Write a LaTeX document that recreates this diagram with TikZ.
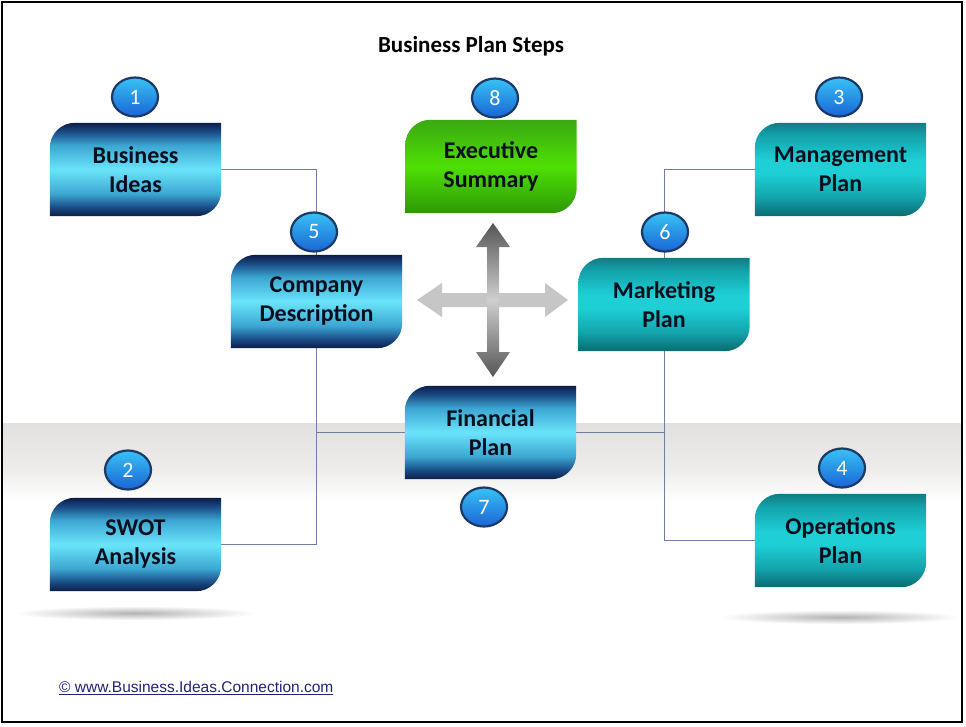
\documentclass[tikz,border=0pt]{standalone}
\usepackage{fontspec}
\setmainfont{Carlito}
\newfontfamily\arialf{Liberation Sans}
\usetikzlibrary{shapes.geometric,calc}
\definecolor{bnavy}{HTML}{0B1D4A}
\definecolor{bdeep}{HTML}{1B4D86}
\definecolor{bmidc}{HTML}{3CA6D2}
\definecolor{bcyan}{HTML}{6AE4FA}
\definecolor{tdark}{HTML}{0A6A70}
\definecolor{tmid}{HTML}{13A3AB}
\definecolor{tlight}{HTML}{1FCFD6}
\definecolor{ttop}{HTML}{0F7D85}
\definecolor{gdark}{HTML}{2E9608}
\definecolor{glight}{HTML}{4EE004}
\definecolor{gtop}{HTML}{3AA812}
\definecolor{adark}{HTML}{555555}
\definecolor{alight}{HTML}{CFCFCF}
\definecolor{hgray}{HTML}{C6C6C6}
\definecolor{bandgray}{HTML}{E3E1DF}
\definecolor{bandmid}{HTML}{EDECEB}
\definecolor{conncol}{HTML}{6F7FA3}
\definecolor{boxtext}{HTML}{0A0F1E}
\definecolor{badgetop}{HTML}{38C2F5}
\definecolor{badgebot}{HTML}{1A64D6}
\definecolor{badgeedge}{HTML}{1C3A66}
\definecolor{linkcol}{HTML}{22227A}
\pgfdeclareverticalshading{blueshade}{100bp}{color(0bp)=(bnavy); color(25bp)=(bnavy); color(30bp)=(bdeep); color(37bp)=(bmidc); color(50bp)=(bcyan); color(63bp)=(bmidc); color(70bp)=(bdeep); color(75bp)=(bnavy); color(100bp)=(bnavy)}
\pgfdeclareverticalshading{tealshade}{100bp}{color(0bp)=(tdark); color(25bp)=(tdark); color(35bp)=(tmid); color(48bp)=(tlight); color(55bp)=(tlight); color(68bp)=(tmid); color(75bp)=(ttop); color(100bp)=(ttop)}
\pgfdeclareverticalshading{greenshade}{100bp}{color(0bp)=(gdark); color(25bp)=(gdark); color(50bp)=(glight); color(75bp)=(gtop); color(100bp)=(gtop)}
\pgfdeclareverticalshading{arrowshade}{100bp}{color(0bp)=(adark); color(25bp)=(adark); color(50bp)=(alight); color(75bp)=(adark); color(100bp)=(adark)}
\pgfdeclareverticalshading{bandshade}{100bp}{color(0bp)=(white); color(25bp)=(white); color(45bp)=(bandmid); color(75bp)=(bandgray); color(100bp)=(bandgray)}
\pgfdeclarelayer{back}
\pgfdeclarelayer{lines}
\pgfdeclarelayer{boxes}
\pgfsetlayers{back,lines,boxes,main}
\tikzset{
  pbox/.style={rectangle, minimum width=171pt, minimum height=93pt, inner sep=0pt, align=center,
    text=boxtext, font=\bfseries\fontsize{24}{29}\selectfont},
  badge/.style={ellipse, minimum width=46pt, minimum height=39pt, inner sep=0pt, draw=badgeedge,
    line width=2.2pt, top color=badgetop, bottom color=badgebot, text=white,
    font=\fontsize{22}{22}\selectfont},
  conn/.style={draw=conncol, line width=0.9pt},
  title/.style={font=\bfseries\fontsize{23}{25}\selectfont, text=black},
}
\newcommand\planbox[4]{%
  \node[pbox] (#1) at (#2) {#4};
  \begin{pgfonlayer}{boxes}
  \shade[shading=#3] (#1.south west) -- ([yshift=-25pt]#1.north west)
    arc[start angle=180, end angle=90, radius=25pt] -- (#1.north east)
    -- ([yshift=25pt]#1.south east) arc[start angle=0, end angle=-90, radius=25pt] -- cycle;
  \end{pgfonlayer}}
\begin{document}
\begin{tikzpicture}[x=1pt,y=1pt]
\useasboundingbox (0,0) rectangle (966,-726);
% background band and shadows
\begin{pgfonlayer}{back}
\fill[white] (0,0) rectangle (966,-726);
\shade[shading=bandshade] (3,-423) rectangle (961,-500);
\shade[inner color=black!30, outer color=white] (135,-613) ellipse [x radius=120pt, y radius=7pt];
\shade[inner color=black!30, outer color=white] (840,-617) ellipse [x radius=120pt, y radius=7pt];
\end{pgfonlayer}
% title
\node[title] (ttl) at (471,-46) {Business Plan Steps};
% boxes
\planbox{bi}{135.5,-169.5}{blueshade}{Business\\Ideas}
\planbox{es}{491,-166.5}{greenshade}{Executive\\Summary}
\planbox{mp}{840.5,-169.5}{tealshade}{Management\\Plan}
\planbox{cd}{316.5,-301.5}{blueshade}{Company\\Description}
\planbox{mk}{664,-304.5}{tealshade}{Marketing\\Plan}
\planbox{fp}{490.5,-432.5}{blueshade}{Financial\\Plan}
\planbox{sw}{135.5,-544.5}{blueshade}{SWOT\\Analysis}
\planbox{op}{840.5,-540.5}{tealshade}{Operations\\Plan}
% connectors
\begin{pgfonlayer}{lines}
\draw[conn] (bi.east) -| (cd.north);
\draw[conn] (cd.south) |- (sw.east);
\draw[conn] (fp.west) -- (fp.west -| cd.south);
\draw[conn] (mp.west) -| (mk.north);
\draw[conn] (mk.south) |- (op.west);
\draw[conn] (fp.east) -- (fp.east -| mk.south);
\end{pgfonlayer}
% center four-way arrow
\fill[hgray] (417,-300) -- (442,-283) -- (442,-293) -- (545,-293) -- (545,-283) -- (568,-300)
  -- (545,-317) -- (545,-307) -- (442,-307) -- (442,-317) -- cycle;
\shade[shading=arrowshade] (493,-223) -- (510,-247) -- (499,-247) -- (499,-352) -- (510,-352)
  -- (493,-377) -- (476,-352) -- (487,-352) -- (487,-247) -- (476,-247) -- cycle;
% badges
\node[badge] (n1) at (135,-97) {1};
\node[badge] (n8) at (495,-98) {8};
\node[badge] (n3) at (839,-97) {3};
\node[badge] (n5) at (314,-232) {5};
\node[badge] (n6) at (665,-232) {6};
\node[badge] (n2) at (128,-470) {2};
\node[badge] (n4) at (842,-468) {4};
\node[badge] (n7) at (484,-507) {7};
% footer link
\node[anchor=west, inner sep=0pt, text=linkcol, font=\arialf\fontsize{15.5}{17}\selectfont] (lnk) at (59,-688)
  {\underline{© www.Business.Ideas.Connection.com}};
% frame
\draw[black, line width=1.3pt] (2,-2) rectangle (962,-722);
\end{tikzpicture}
\end{document}
